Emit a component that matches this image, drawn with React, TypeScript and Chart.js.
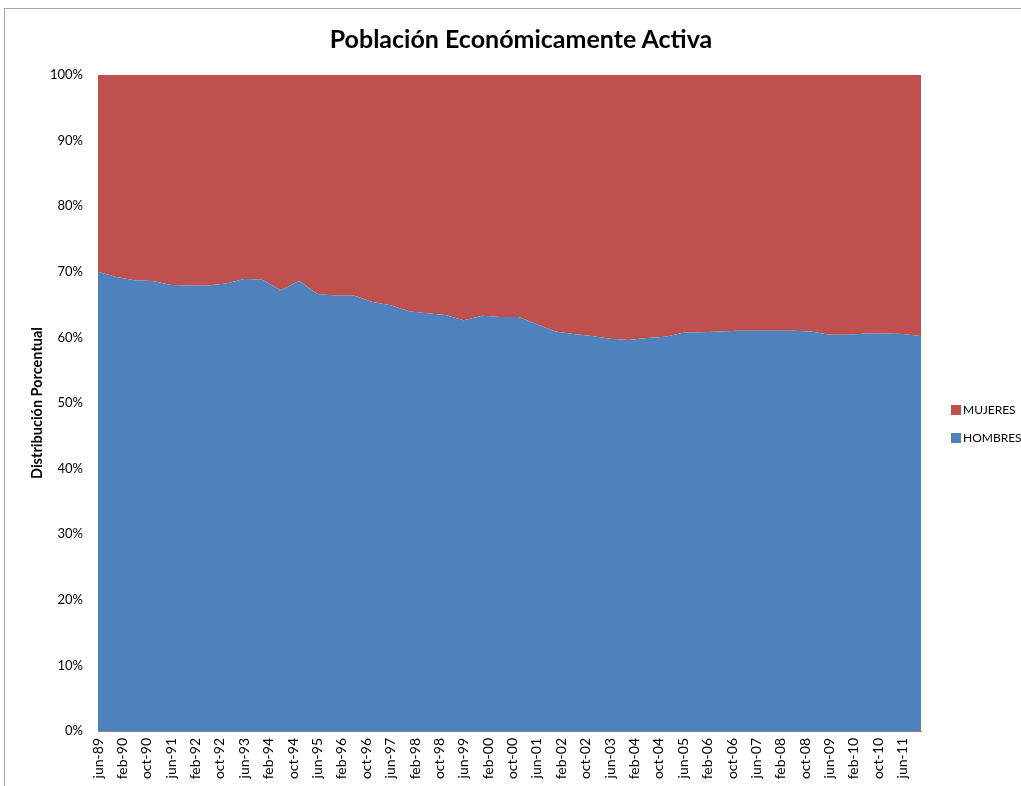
import React, { useEffect, useRef } from "react";
import { Chart, registerables } from "chart.js";

Chart.register(...registerables);

const TITLE = "Población Económicamente Activa";
const Y_TITLE = "Distribución Porcentual";
const MONTHS = ["ene", "feb", "mar", "abr", "may", "jun", "jul", "ago", "sep", "oct", "nov", "dic"];

const PERIODS = [
  "jun-89", "dic-89", "jun-90", "dic-90", "jun-91", "dic-91", "jun-92", "dic-92",
  "jun-93", "dic-93", "jun-94", "dic-94", "jun-95", "dic-95", "jun-96", "dic-96",
  "jun-97", "dic-97", "jun-98", "dic-98", "jun-99", "dic-99", "jun-00", "dic-00",
  "jun-01", "dic-01", "jun-02", "dic-02", "jun-03", "dic-03", "jun-04", "dic-04",
  "jun-05", "dic-05", "jun-06", "dic-06", "jun-07", "dic-07", "jun-08", "dic-08",
  "jun-09", "dic-09", "jun-10", "dic-10", "jun-11", "dic-11",
];

const HOMBRES = [
  70.0, 69.2, 68.7, 68.6, 68.0, 67.9, 67.9, 68.2,
  68.9, 68.8, 67.2, 68.6, 66.6, 66.4, 66.4, 65.4,
  64.9, 64.0, 63.7, 63.4, 62.6, 63.3, 63.1, 63.1,
  62.0, 60.9, 60.5, 60.2, 59.8, 59.6, 59.9, 60.1,
  60.7, 60.8, 60.9, 61.0, 61.0, 61.0, 61.0, 60.9,
  60.4, 60.4, 60.6, 60.6, 60.5, 60.2,
];

const MUJERES = [
  30.0, 30.8, 31.3, 31.4, 32.0, 32.1, 32.1, 31.8,
  31.1, 31.2, 32.8, 31.4, 33.4, 33.6, 33.6, 34.6,
  35.1, 36.0, 36.3, 36.6, 37.4, 36.7, 36.9, 36.9,
  38.0, 39.1, 39.5, 39.8, 40.2, 40.4, 40.1, 39.9,
  39.3, 39.2, 39.1, 39.0, 39.0, 39.0, 39.0, 39.1,
  39.6, 39.6, 39.4, 39.4, 39.5, 39.8,
];

const X_TICK_LABELS = [
  "jun-89", "feb-90", "oct-90", "jun-91", "feb-92", "oct-92", "jun-93", "feb-94",
  "oct-94", "jun-95", "feb-96", "oct-96", "jun-97", "feb-98", "oct-98", "jun-99",
  "feb-00", "oct-00", "jun-01", "feb-02", "oct-02", "jun-03", "feb-04", "oct-04",
  "jun-05", "feb-06", "oct-06", "jun-07", "feb-08", "oct-08", "jun-09", "feb-10",
  "oct-10", "jun-11",
];

const Y_TICKS = [0, 10, 20, 30, 40, 50, 60, 70, 80, 90, 100];

const BLUE = "#4F81BD";
const RED = "#C0504D";
const FONT = "Lato, 'Open Sans', sans-serif";

function monthOffset(label: string): number {
  const [m, yy] = label.split("-");
  const n = parseInt(yy, 10);
  const year = n < 50 ? 2000 + n : 1900 + n;
  return (year - 1989) * 12 + MONTHS.indexOf(m) - 5;
}

export default function App() {
  const ref = useRef<HTMLCanvasElement | null>(null);

  useEffect(() => {
    if (!ref.current) return;
    const xs = PERIODS.map(monthOffset);
    const tickMap = new Map<number, string>();
    X_TICK_LABELS.forEach((l) => tickMap.set(monthOffset(l), l));

    const chart = new Chart(ref.current, {
      type: "line",
      data: {
        datasets: [
          {
            label: "HOMBRES",
            data: HOMBRES.map((v, i) => ({ x: xs[i], y: v })),
            backgroundColor: BLUE,
            borderColor: BLUE,
            borderWidth: 0,
            pointRadius: 0,
            fill: "origin",
            tension: 0,
          },
          {
            label: "MUJERES",
            data: MUJERES.map((v, i) => ({ x: xs[i], y: v })),
            backgroundColor: RED,
            borderColor: RED,
            borderWidth: 0,
            pointRadius: 0,
            fill: "-1",
            tension: 0,
          },
        ],
      },
      options: {
        responsive: false,
        animation: false,
        layout: { padding: { top: 75, right: 100, left: 0, bottom: 0 } },
        plugins: {
          legend: { display: false },
          title: { display: false },
          tooltip: { enabled: false },
        },
        scales: {
          x: {
            type: "linear",
            min: 0,
            max: monthOffset(PERIODS[PERIODS.length - 1]),
            grid: { display: false, drawTicks: false },
            border: { display: true, color: "#868686", width: 1 },
            afterBuildTicks: (s: any) => {
              s.ticks = X_TICK_LABELS.map((l) => ({ value: monthOffset(l) }));
            },
            afterFit: (s: any) => {
              s.height = 55;
            },
            ticks: {
              autoSkip: false,
              maxRotation: 90,
              minRotation: 90,
              padding: 7,
              color: "#000",
              font: { family: FONT, size: 14 },
              callback: (v: any) => tickMap.get(Number(v)) ?? "",
            },
          },
          y: {
            stacked: true,
            min: 0,
            max: 100,
            grid: { display: false, drawTicks: false },
            border: { display: true, color: "#868686", width: 1 },
            afterBuildTicks: (s: any) => {
              s.ticks = Y_TICKS.map((v) => ({ value: v }));
            },
            afterFit: (s: any) => {
              s.width = 98;
            },
            title: {
              display: true,
              text: Y_TITLE,
              color: "#000",
              font: { family: FONT, size: 14.5, weight: "bold" },
              padding: { top: 29, bottom: 0 },
            },
            ticks: {
              padding: 15,
              color: "#000",
              font: { family: FONT, size: 13 },
              callback: (v: any) => `${v}%`,
            },
          },
        },
      },
    });
    return () => chart.destroy();
  }, []);

  const legendItem = (color: string, text: string, top: number) => (
    <div
      style={{
        position: "absolute",
        left: 951,
        top,
        display: "flex",
        alignItems: "center",
        whiteSpace: "nowrap",
        fontFamily: FONT,
        fontSize: 12,
        color: "#000",
      }}
    >
      <span style={{ display: "inline-block", width: 10, height: 10, background: color, marginRight: 2 }} />
      <span>{text}</span>
    </div>
  );

  return (
    <div
      style={{
        position: "absolute",
        left: 0,
        top: 0,
        width: 1021,
        height: 786,
        overflow: "hidden",
        background: "#fff",
      }}
    >
      <div
        style={{
          position: "absolute",
          left: 4,
          top: 8,
          width: 1030,
          height: 800,
          borderLeft: "1px solid #a6a6a6",
          borderTop: "1px solid #a6a6a6",
        }}
      />
      <canvas ref={ref} width={1021} height={786} style={{ position: "absolute", left: 0, top: 0 }} />
      <div
        style={{
          position: "absolute",
          left: 271,
          top: 23,
          width: 500,
          textAlign: "center",
          fontFamily: FONT,
          fontWeight: 700,
          fontSize: 25,
          color: "#000",
        }}
      >
        {TITLE}
      </div>
      {legendItem(RED, "MUJERES", 402)}
      {legendItem(BLUE, "HOMBRES", 430)}
    </div>
  );
}
